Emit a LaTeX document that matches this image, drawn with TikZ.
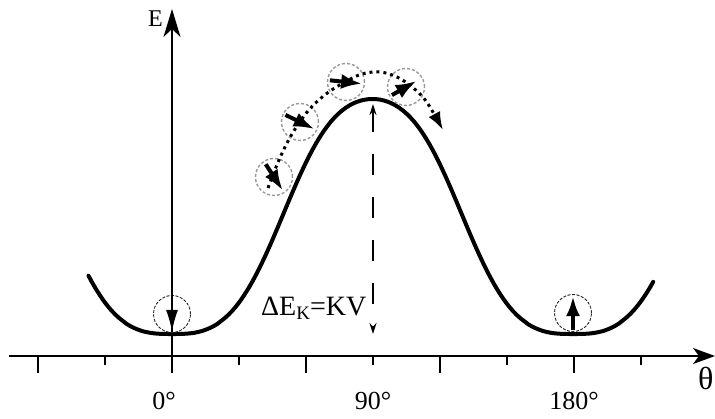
\documentclass[tikz,border=0pt]{standalone}
\usepackage{fontspec}
\setmainfont{Liberation Serif}
\usetikzlibrary{arrows.meta,positioning}

\begin{document}
\begin{tikzpicture}[x=1pt, y=-1pt,
  axis/.style={line width=1.5pt, -{Stealth[length=22pt,width=16pt,inset=6pt]}},
  tick/.style={line width=1.5pt},
  well/.style={circle, draw=black!85, dash pattern=on 3pt off 1.5pt, line width=0.9pt, minimum size=37pt, inner sep=0pt},
  hop/.style={circle, draw=black!40, dash pattern=on 3pt off 2pt, line width=1.4pt, minimum size=37pt, inner sep=0pt},
  spin/.style={line width=4pt, -{Latex[length=21pt,width=15pt]}},
  traj/.style={line width=3pt, dash pattern=on 3pt off 4pt, -{Latex[length=18pt,width=13pt]}},
  barrier/.style={line width=1.5pt, dash pattern=on 21pt off 22pt, {Stealth[length=11pt,width=7pt]}-{Stealth[length=11pt,width=7pt]}},
  lbl/.style={font=\fontsize{26}{30}\selectfont}]
\useasboundingbox (0,0) rectangle (715,418);

\coordinate (xstart) at (9,356);
\coordinate (xend) at (715,356);
\coordinate (ybot) at (172,373);
\coordinate (ytop) at (172,9);
\draw[axis] (xstart) -- (xend);
\draw[axis, -{Stealth[length=28pt,width=17pt,inset=8pt]}] (ybot) -- (ytop);
\foreach \x in {38,306,440,574}
  \draw[tick] (\x,356) -- (\x,373);
\foreach \x in {105,239,373,507,641}
  \draw[tick] (\x,356) -- (\x,365);

\node[lbl, anchor=base] (deg0) at (164,409) {0°};
\node[lbl, anchor=base] (deg90) at (373,409) {90°};
\node[lbl, anchor=base] (deg180) at (574,409) {180°};
\node[font=\fontsize{24}{26}\selectfont, anchor=base east, inner sep=0pt] (elbl) at (163,26) {E};
\node[font=\fontsize{32}{34}\selectfont, anchor=base west, inner sep=0pt] (thlbl) at (698,389) {θ};

\draw[line width=4pt, line cap=round] plot[domain=-37.5:216, samples=150] ({172+\x*2.2278}, {334-235*(sin(\x)^2)^(1.5-0.7*sin(\x)^4)});

\coordinate (pk) at (373,104);
\coordinate (bt) at (373,334);
\draw[barrier] (pk) -- (bt);
\node[font=\fontsize{28}{30}\selectfont, anchor=base west, inner sep=0pt] (dek) at (261,315) {ΔE\raisebox{-4pt}{\fontsize{19}{20}\selectfont K}=KV};

\node[well] (w0) at (172,314) {};
\node[well] (w180) at (573,313) {};
\draw[line width=1.8pt, -{Latex[length=22pt,width=12pt]}, shorten >=1pt] (w0.north) -- (w0.south);
\draw[line width=4pt, -{Latex[length=20pt,width=14pt]}, shorten <=2pt, shorten >=2pt] (w180.south) -- (w180.north);

\node[hop] (h1) at (274,177) {};
\node[hop] (h2) at (300,122) {};
\node[hop] (h3) at (346,82) {};
\node[hop] (h4) at (406,87) {};

\draw[traj] plot[smooth, tension=0.6] coordinates {(268,188) (279,160) (292,134) (308,111) (326,94) (345,82) (362,74) (380,72) (397,77) (412,87) (426,101) (443,130)};

\draw[spin, shorten <=4pt, shorten >=3pt] (h1.123) -- (h1.-57);
\draw[spin, shorten <=3pt, shorten >=3pt] (h2.154) -- (h2.-26);
\draw[spin, shorten <=3pt, shorten >=3pt] (h3.174) -- (h3.-6);
\draw[spin, shorten <=3pt, shorten >=7pt] (h4.210) -- (h4.30);
\end{tikzpicture}
\end{document}
